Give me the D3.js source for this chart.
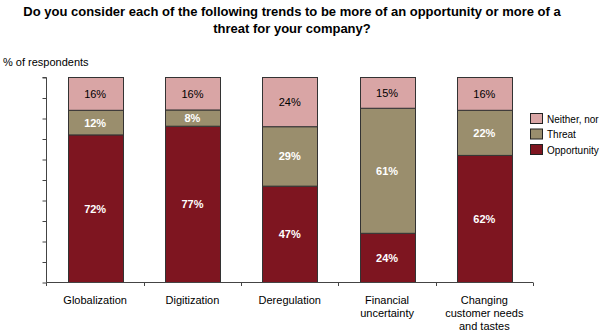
<!DOCTYPE html>
<html>
<head>
<meta charset="utf-8">
<script src="https://cdn.jsdelivr.net/npm/d3@7"></script>
<style>
body { margin:0; background:#fff; }
svg { font-family: "Liberation Sans", Arial, sans-serif; }
.title { font-size:13px; font-weight:bold; fill:#000; }
.unit { font-size:11px; fill:#000; }
.cat { font-size:11px; fill:#000; }
.val { font-size:11px; }
.legend text { font-size:10px; fill:#000; }
.axis path, .axis line { stroke:#444; stroke-width:1; }
</style>
</head>
<body>
<svg width="600" height="335"></svg>
<script>
const categories = [["Globalization"],["Digitization"],["Deregulation"],["Financial","uncertainty"],["Changing","customer needs","and tastes"]]
const opportunity = [72,77,47,24,62]
const threat = [12,8,29,61,22]
const neither = [16,16,24,15,16]
const seriesNames = ["Opportunity","Threat","Neither, nor"]
const colors = ["#7e1520","#9a8e6d","#d9a5a5"]
const textColors = ["#fff","#fff","#000"]

const svg = d3.select("svg")

const rows = categories.map((c,i)=>{return {cat:c.join(" "), lines:c, Opportunity:opportunity[i], Threat:threat[i], "Neither, nor":neither[i]}})

const stack = d3.stack()
    .keys(seriesNames)
    .offset(d3.stackOffsetExpand)

const layers = stack(rows)

const xScale = d3.scaleBand()
    .domain(rows.map(d=>d.cat))
    .range([46.5,533])
    .paddingInner(0.435)
    .paddingOuter(0.2175)

const yScale = d3.scaleLinear()
    .domain([0,1])
    .range([282.5,77.5])

// title
svg.append("text")
    .attr("class","title")
    .attr("text-anchor","middle")
    .attr("x",292)
    .attr("y",16)
    .text("Do you consider each of the following trends to be more of an opportunity or more of a")
svg.append("text")
    .attr("class","title")
    .attr("text-anchor","middle")
    .attr("x",292)
    .attr("y",33)
    .text("threat for your company?")

svg.append("text")
    .attr("class","unit")
    .attr("x",3)
    .attr("y",66)
    .text("% of respondents")

// bars
const layerGroup = svg.selectAll("g.layer")
    .data(layers)
    .enter()
    .append("g")
    .attr("class","layer")
    .style("fill",(d,i)=>colors[i])

layerGroup.selectAll("rect")
    .data(d=>d)
    .enter()
    .append("rect")
    .attr("x",d=>Math.round(xScale(d.data.cat))+0.5)
    .attr("y",d=>yScale(d[1]))
    .attr("width",Math.round(xScale.bandwidth()))
    .attr("height",d=>yScale(d[0])-yScale(d[1]))
    .style("stroke","#333")
    .style("stroke-width",1)

layers.forEach((layer,li)=>{
    svg.append("g")
        .selectAll("text")
        .data(layer)
        .enter()
        .append("text")
        .attr("class","val")
        .attr("text-anchor","middle")
        .attr("x",d=>xScale(d.data.cat)+xScale.bandwidth()/2)
        .attr("y",d=>(yScale(d[0])+yScale(d[1]))/2+4)
        .style("fill",textColors[li])
        .style("font-weight",li<2?"bold":"normal")
        .text(d=>d.data[layer.key]+"%")
})

// y axis
const yAxis = d3.axisLeft(yScale)
    .ticks(10)
    .tickSize(4)
    .tickFormat("")
svg.append("g")
    .attr("class","axis")
    .attr("transform","translate(46.5,0)")
    .call(yAxis)
    .call(g=>g.select(".domain").attr("d","M-4,77.5H0V282.5"))

// x axis
const bounds = rows.map(d=>xScale(d.cat)-xScale.step()*xScale.paddingOuter()).concat([533])
const xAxis = svg.append("g")
    .attr("class","axis")
xAxis.append("line")
    .attr("x1",46.5).attr("x2",533)
    .attr("y1",282.5).attr("y2",282.5)
xAxis.selectAll("line.tick")
    .data(bounds)
    .enter()
    .append("line")
    .attr("class","tick")
    .attr("x1",d=>Math.round(d)+0.5).attr("x2",d=>Math.round(d)+0.5)
    .attr("y1",282.5).attr("y2",286)

const catLabels = svg.selectAll("text.cat")
    .data(rows)
    .enter()
    .append("text")
    .attr("class","cat")
    .attr("text-anchor","middle")
    .attr("x",d=>xScale(d.cat)+xScale.bandwidth()/2)
    .attr("y",304)

catLabels.selectAll("tspan")
    .data(d=>d.lines)
    .enter()
    .append("tspan")
    .attr("x",function(){return d3.select(this.parentNode).attr("x")})
    .attr("dy",(d,i)=>i===0?0:13)
    .text(d=>d)

// legend
const legendItems = seriesNames.slice().reverse()
const legend = svg.append("g")
    .attr("class","legend")
    .attr("transform","translate(530,113)")
const li = legend.selectAll("g")
    .data(legendItems)
    .enter()
    .append("g")
    .attr("transform",(d,i)=>`translate(0,${i*15.5})`)
li.append("rect")
    .attr("x",0.5).attr("y",0.5)
    .attr("width",12).attr("height",10)
    .style("fill",d=>colors[seriesNames.indexOf(d)])
    .style("stroke","#222")
li.append("text")
    .attr("x",17)
    .attr("y",9.5)
    .text(d=>d)
</script>
</body>
</html>
